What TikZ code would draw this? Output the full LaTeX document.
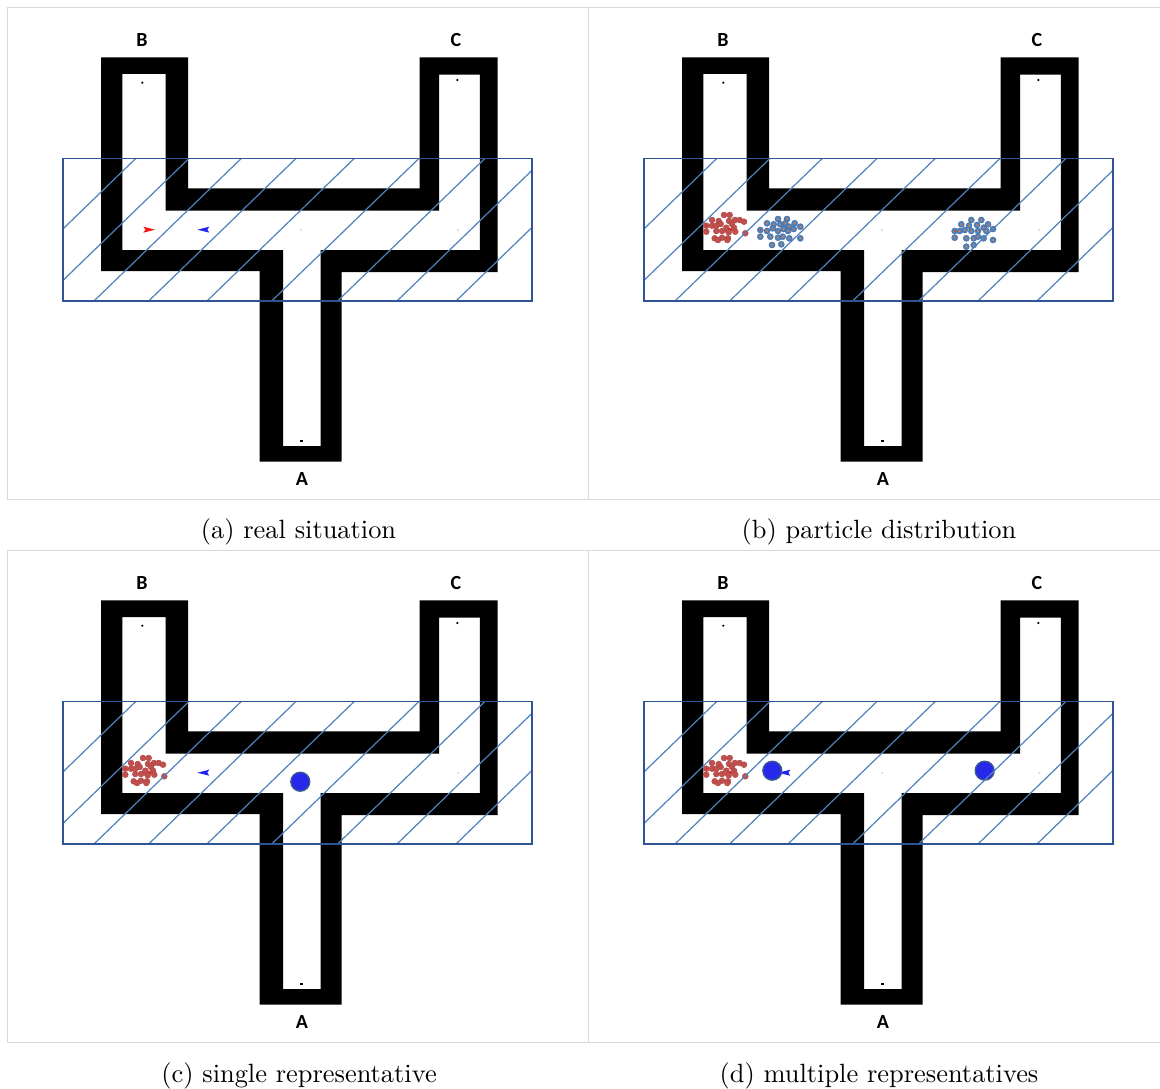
\documentclass[tikz,border=0pt]{standalone}
\usepackage{fontspec}
\newfontfamily\labfont{Carlito}
\newfontfamily\capfont{lmroman10-regular}[Extension=.otf]
\definecolor{zoneblue}{RGB}{47,84,150}
\definecolor{hatchblue}{RGB}{79,129,189}
\definecolor{framegray}{RGB}{217,217,217}
\definecolor{redpart}{RGB}{192,80,77}
\definecolor{redpartd}{RGB}{170,65,62}
\definecolor{bluepart}{RGB}{79,129,189}
\definecolor{orangec}{RGB}{237,125,49}
\definecolor{repblue}{RGB}{40,40,235}
\definecolor{repedge}{RGB}{60,90,140}
\definecolor{agentred}{RGB}{245,20,20}
\definecolor{agentblue}{RGB}{35,35,240}
\begin{document}
\begin{tikzpicture}[x=1pt,y=-1pt,
  wall/.style={fill=black,even odd rule},
  zone/.style={draw=zoneblue,line width=1.5pt},
  hatch/.style={draw=hatchblue,line width=1.2pt},
  framebox/.style={draw=framegray,line width=1pt},
  lbl/.style={font=\labfont\bfseries\fontsize{20}{24}\selectfont,inner sep=0pt},
  captext/.style={font=\capfont\fontsize{26.4}{30}\selectfont,inner sep=0pt},
  redp/.style={fill=redpart,draw=redpartd,line width=0.3pt},
  bluep/.style={fill=bluepart,draw=bluepart!80!black,line width=0.3pt},
  ctr/.style={fill=orangec},
  agentR/.style={fill=agentred},
  agentB/.style={fill=agentblue},
  rep/.style={fill=repblue,draw=repedge,line width=1.3pt},
  tinydot/.style={fill=black},
  faintdot/.style={fill=black!25}]
\useasboundingbox (0,0) rectangle (1160,1089);
\fill[white] (0,0) rectangle (1160,1089);

\newcommand\mazepanel[3]{%
\begin{scope}[shift={(#1,#2)}]
  \fill[wall] (101,57.3) -- (188.2,57.3) -- (188.2,188.3) -- (419.6,188.3) -- (419.6,57.3)
    -- (497.5,57.3) -- (497.5,272) -- (341.7,272) -- (341.7,461.7) -- (259.7,461.7)
    -- (259.7,271) -- (101,271) -- cycle
    (122.3,74) -- (165.6,74) -- (165.6,210.7) -- (439.2,210.7) -- (439.2,74.7)
    -- (479.9,74.7) -- (479.9,250) -- (320.7,250) -- (320.7,446) -- (283,446)
    -- (283,250) -- (122.3,250) -- cycle;
  \fill[tinydot] (142.3,82.7) circle[radius=1.2];
  \fill[tinydot] (457.3,80) circle[radius=1.2];
  \fill[tinydot] (299.8,440.4) rectangle (302.6,442.4);
  \fill[faintdot] (301,230) circle[radius=0.8];
  \fill[faintdot] (458,230) circle[radius=0.8];
  \node[lbl] (B#3) at (142,40) {B};
  \node[lbl] (C#3) at (456,40) {C};
  \node[lbl] (A#3) at (302,479) {A};
\end{scope}}

\newcommand\hatchzone[2]{%
\begin{scope}[shift={(#1,#2)}]
  \begin{scope}
    \clip (63.2,158.7) rectangle (531.8,301);
    \foreach \a in {-11.5,41.7,94,148.7,207,271.7,337.6,397,456}
      \draw[hatch] ({\a-10},310.68) -- ({\a+157},149.02);
  \end{scope}
  \draw[zone] (63.2,158.7) rectangle (531.8,301);
\end{scope}}

\newcommand\agentred[2]{\fill[agentR] ({#1+155},{#2+229.7}) -- ({#1+143.3},{#2+226.7}) -- ({#1+145.5},{#2+229.7}) -- ({#1+143.3},{#2+232.7}) -- cycle;}
\newcommand\agentblue[2]{\fill[agentB] ({#1+197.3},{#2+229.7}) -- ({#1+209.3},{#2+226.7}) -- ({#1+207.3},{#2+229.7}) -- ({#1+209.3},{#2+232.7}) -- cycle;}

\newcommand\redcloud[2]{%
\foreach \x/\y in {131/220,137.7/221,143/215,148.7/215,148/221,154/220,158.7/220,163/221.7,
  139.7/224,151/224,125.3/225.7,131/225.7,135.3/225.7,145.3/227.7,153/227.7,125.3/231.7,
  135.3/231,141/231,147.7/232.3,154.3/231.7,164.3/233.3,133.7/238.3,141/237.7,147/238.3,
  137/240,146.3/240}
  \fill[redp] ({#1+\x},{#2+\y}) circle[radius=3];
\fill[agentR] ({#1+125.3},{#2+225.7}) circle[radius=0.9];}

\newcommand\bluecloudA[2]{%
\foreach \x/\y in {197/219,206/219,186/223.3,192.7/224.3,199.3/224.3,204.3/223.3,213.7/223.3,
  208.3/226.7,179.3/230,186/231,191.7/228.3,197/231,202.7/229,207/231,212.7/229,219.3/226.7,
  179.3/236.7,189.3/236.7,197/237.7,201.7/236.7,208.3/238.3,219.3/238.3,191/245,200.3/244.3}
  {\fill[bluep] ({#1+\x},{#2+\y}) circle[radius=3.1];
   \fill[ctr] ({#1+\x},{#2+\y}) circle[radius=1];}
\fill[agentR] ({#1+179.3},{#2+230}) circle[radius=0.9];}

\newcommand\bluecloudB[2]{%
\foreach \x/\y in {390.3/220,400.3/220,380.3/224.3,388/225.7,396/225,407/224.3,402.7/227.7,
  373.7/231,378.7/231,383.7/230,390.3/231,397/231,405.3/231,412/229,373.7/237.7,385.3/238.3,
  392.7/238.3,397/236.7,402.7/238.3,412/240,385.3/246.7,392.7/245}
  {\fill[bluep] ({#1+\x},{#2+\y}) circle[radius=3.1];
   \fill[ctr] ({#1+\x},{#2+\y}) circle[radius=1];}
\fill[agentR] ({#1+373.7},{#2+231}) circle[radius=0.9];}

% frames
\draw[framebox] (7.5,7.3) rectangle (588,499);
\draw[framebox] (588,7.3) -- (1170,7.3) (588,499) -- (1170,499);
\draw[framebox] (7.5,550.3) rectangle (588,1042);
\draw[framebox] (588,550.3) -- (1170,550.3) (588,1042) -- (1170,1042);

% (a)
\mazepanel{0}{0}{a}
\agentred{0}{0}
\agentblue{0}{0}
\hatchzone{0}{0}

% (b)
\mazepanel{581}{0}{b}
\agentred{581}{0}
\agentblue{581}{0}
\redcloud{581}{0}
\bluecloudA{581}{0}
\bluecloudB{581}{0}
\hatchzone{581}{0}

% (c)
\mazepanel{0}{543}{c}
\agentred{0}{543}
\redcloud{0}{543}
\agentblue{0}{543}
\fill[rep] (300.3,781.7) circle[radius=9.5];
\hatchzone{0}{543}

% (d)
\mazepanel{581}{543}{d}
\agentred{581}{543}
\redcloud{581}{543}
\agentblue{581}{543}
\fill[rep] (772.3,770.7) circle[radius=9.5];
\fill[rep] (984.7,770.7) circle[radius=9.5];
\hatchzone{581}{543}

% captions
\node[captext] (capa) at (298.5,532) {(a) real situation};
\node[captext] (capb) at (879,532) {(b) particle distribution};
\node[captext] (capc) at (299,1076) {(c) single representative};
\node[captext] (capd) at (879,1076) {(d) multiple representatives};
\end{tikzpicture}
\end{document}
